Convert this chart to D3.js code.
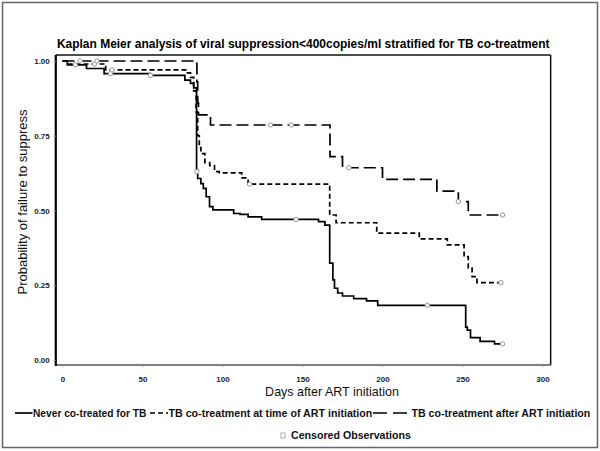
<!DOCTYPE html>
<html><head><meta charset="utf-8">
<script src="https://cdn.jsdelivr.net/npm/d3@7"></script>
<style>body{margin:0;background:#fff}svg{display:block}</style>
</head><body>
<svg id="c" width="600" height="451"></svg>
<script>
// ---- data ----
const xTicks = [0, 50, 100, 150, 200, 250, 300];
const yTicks = [0, 0.25, 0.5, 0.75, 1.0];
const seriesNames = ["Never co-treated for TB", "TB co-treatment at time of ART initiation", "TB co-treatment after ART initiation"];

const neverDays = [0, 3, 15, 26, 55, 76.5, 80, 82, 83.8, 84.5, 86.5, 88, 89.8, 91.9, 94, 107, 111, 116, 124.5, 160, 164, 167, 169, 170, 172, 175, 182, 190, 197, 252, 253, 255, 261, 270, 275];
const neverSurv = [1.0, 0.987, 0.975, 0.958, 0.952, 0.936, 0.925, 0.91, 0.635, 0.607, 0.59, 0.574, 0.546, 0.513, 0.502, 0.49, 0.487, 0.479, 0.47, 0.463, 0.451, 0.324, 0.268, 0.24, 0.224, 0.214, 0.205, 0.198, 0.183, 0.11, 0.10, 0.075, 0.062, 0.054, 0.054];
const neverCens = [[8, 0.987], [30, 0.958], [55, 0.952], [84, 0.63], [146, 0.47], [228, 0.183], [275, 0.054]];

const atTimeDays = [0, 3, 27, 77, 80, 82, 83.5, 84.5, 85.5, 86.5, 89, 92, 95, 98, 112, 116, 167, 171, 196.4, 223, 240.5, 251, 253.6, 256, 259, 274];
const atTimeSurv = [1.0, 0.99, 0.97, 0.96, 0.945, 0.90, 0.83, 0.75, 0.71, 0.69, 0.66, 0.65, 0.63, 0.626, 0.609, 0.588, 0.485, 0.459, 0.424, 0.405, 0.385, 0.346, 0.307, 0.279, 0.259, 0.259];
const atTimeCens = [[20, 0.99], [31, 0.97], [117, 0.588], [274, 0.259]];

const afterDays = [0, 84, 84.5, 85, 92.5, 167.2, 175, 200, 234, 247.4, 253.6, 275];
const afterSurv = [1.0, 0.93, 0.86, 0.82, 0.786, 0.68, 0.643, 0.604, 0.565, 0.53, 0.485, 0.485];
const afterCens = [[11, 1.0], [21.5, 1.0], [130, 0.786], [143, 0.786], [179, 0.643], [247.4, 0.53], [275, 0.485]];

// ---- drawing ----
const svg = d3.select("#c");
const FONT = "'Liberation Sans', Arial, Helvetica, sans-serif";
const x = d3.scaleLinear().domain([0, 300]).range([62.5, 542.5]);
const y = d3.scaleLinear().domain([0, 1]).range([360, 61]);
const xL = x(-4.2), xR = x(294.8 + 10.3), yT = y(1.02), yB = y(-0.017);

// outer border
svg.append("rect").attr("x", 2.5).attr("y", 2.5).attr("width", 595).attr("height", 445)
  .attr("fill", "none").attr("stroke", "#666").attr("stroke-width", 1.5);

function fit(sel, w) {
  const len = sel.node().getComputedTextLength();
  const fs = parseFloat(sel.attr("font-size"));
  sel.attr("font-size", fs * w / len);
  return sel;
}

// title
fit(svg.append("text").attr("x", (xL + xR) / 2).attr("y", 48).attr("text-anchor", "middle")
  .attr("font-family", FONT).attr("font-weight", "bold").attr("font-size", 12)
  .text("Kaplan Meier analysis of viral suppression<400copies/ml stratified for TB co-treatment"), 493);

// frame
svg.append("line").attr("x1", xL).attr("x2", xR).attr("y1", yT).attr("y2", yT).attr("stroke", "#111").attr("stroke-width", 1.5);
svg.append("line").attr("x1", xR).attr("x2", xR).attr("y1", yT).attr("y2", yB).attr("stroke", "#111").attr("stroke-width", 1.5);
svg.append("line").attr("x1", xL).attr("x2", xR).attr("y1", yB).attr("y2", yB).attr("stroke", "#555").attr("stroke-width", 1.5);
svg.append("line").attr("x1", xL).attr("x2", xL).attr("y1", yT).attr("y2", yB + 1).attr("stroke", "#000").attr("stroke-width", 2.2);

// axes
const yAxis = svg.append("g").attr("transform", `translate(${xL},0)`)
  .call(d3.axisLeft(y).tickValues(yTicks).tickFormat(d3.format(".2f")).tickSize(2).tickPadding(4));
yAxis.select(".domain").remove();
yAxis.selectAll("text").attr("font-family", FONT).attr("font-weight", "bold").attr("font-size", 8).attr("fill", "#222");
yAxis.selectAll("line").attr("stroke", "#888");

const xAxis = svg.append("g").attr("transform", `translate(0,${yB})`)
  .call(d3.axisBottom(x).tickValues(xTicks).tickFormat(d3.format("d")).tickSize(2).tickPadding(9));
xAxis.select(".domain").remove();
xAxis.selectAll("text").attr("font-family", FONT).attr("font-weight", "bold").attr("font-size", 8).attr("fill", "#222");
xAxis.selectAll("line").attr("stroke", "#aaa");

// axis titles
fit(svg.append("text").attr("x", 332).attr("y", 396).attr("text-anchor", "middle")
  .attr("font-family", FONT).attr("font-size", 13).attr("fill", "#111").text("Days after ART initiation"), 134);
fit(svg.append("text").attr("transform", "translate(27,202) rotate(-90)").attr("text-anchor", "middle")
  .attr("font-family", FONT).attr("font-size", 13).attr("fill", "#111").text("Probability of failure to suppress"), 185);

// curves
const line = d3.line().x(d => x(d[0])).y(d => y(d[1])).curve(d3.curveStepAfter);
const styles = [null, "5,3", "12,5"];
const curves = [
  [neverDays, neverSurv, neverCens],
  [atTimeDays, atTimeSurv, atTimeCens],
  [afterDays, afterSurv, afterCens]
];
curves.forEach(([days, surv, cens], i) => {
  const pts = days.map((d, k) => [d, surv[k]]);
  svg.append("path").datum(pts).attr("d", line).attr("fill", "none")
    .attr("stroke", "#000").attr("stroke-width", 1.7)
    .attr("stroke-dasharray", styles[i]);
});
curves.forEach(([days, surv, cens]) => {
  svg.selectAll(null).data(cens).enter().append("circle")
    .attr("cx", d => x(d[0])).attr("cy", d => y(d[1])).attr("r", 2.2)
    .attr("fill", "#fff").attr("stroke", "#999").attr("stroke-width", 1);
});

// legend
const legY = 417;
const legItems = [
  {x1: 15, x2: 32.5, tx: 33, w: 113.5, dash: null},
  {x1: 150, x2: 168, tx: 168.5, w: 204, dash: "5,3"},
  {x1: 373, x2: 410, tx: 411.5, w: 179, dash: "14,6"}
];
legItems.forEach((it, i) => {
  svg.append("line").attr("x1", it.x1).attr("x2", it.x2).attr("y1", legY - 4).attr("y2", legY - 4)
    .attr("stroke", "#000").attr("stroke-width", 1.7).attr("stroke-dasharray", it.dash);
  fit(svg.append("text").attr("x", it.tx).attr("y", legY).attr("font-family", FONT)
    .attr("font-weight", "bold").attr("font-size", 11).attr("fill", "#111").text(seriesNames[i]), it.w);
});
svg.append("rect").attr("x", 281).attr("y", 433).attr("width", 4).attr("height", 5)
  .attr("fill", "#fff").attr("stroke", "#aaa").attr("stroke-width", 1);
fit(svg.append("text").attr("x", 291).attr("y", 439).attr("font-family", FONT)
  .attr("font-weight", "bold").attr("font-size", 11).attr("fill", "#111").text("Censored Observations"), 120);
</script>
</body></html>
